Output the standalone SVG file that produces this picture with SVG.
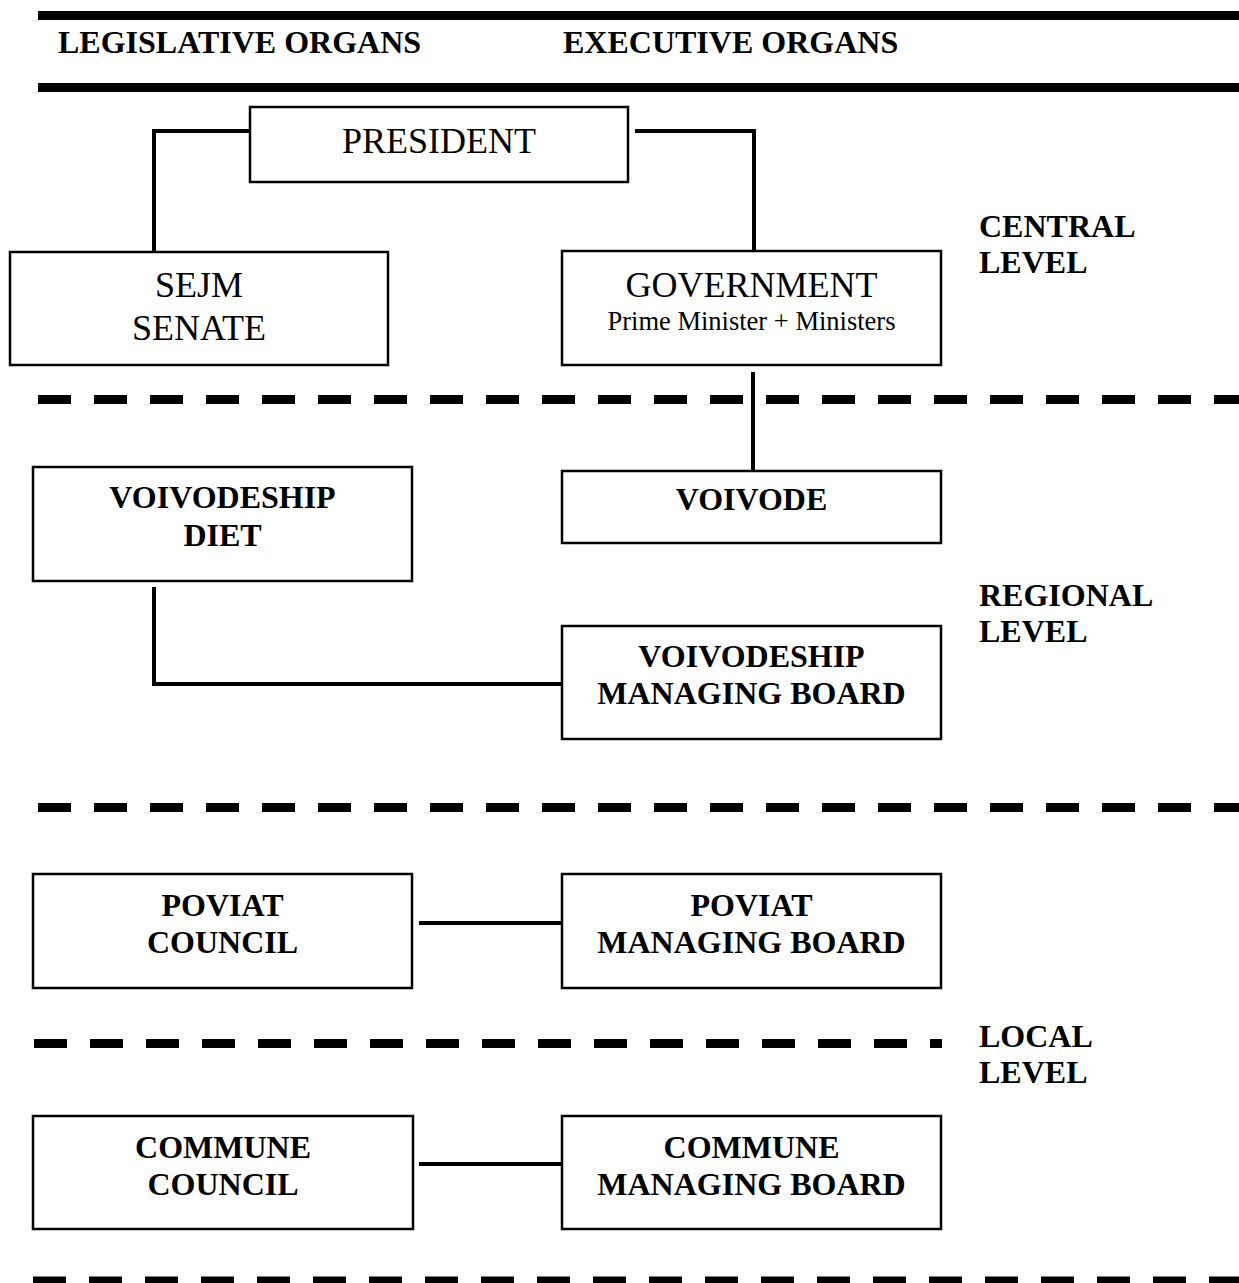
<svg xmlns="http://www.w3.org/2000/svg" width="1239" height="1283" viewBox="0 0 1239 1283">
<style>
.bg{fill:#fff}
.box{fill:#fff;stroke:#000;stroke-width:2.5}
.bar{stroke:#000;stroke-width:9;fill:none}
.dash{stroke:#000;stroke-width:9;fill:none;stroke-dasharray:33 23}
.conn{stroke:#000;stroke-width:4;fill:none}
.b{font-family:"Liberation Serif","Times New Roman",serif;font-weight:bold;font-size:32px;fill:#000}
.r{font-family:"Liberation Serif","Times New Roman",serif;font-size:36px;fill:#000}
.s{font-family:"Liberation Serif","Times New Roman",serif;font-size:26.5px;fill:#000}
.c{text-anchor:middle}
</style>
<rect class="bg" x="0" y="0" width="1239" height="1283"/>
<g id="header">
<line class="bar" x1="38" y1="15.5" x2="1239" y2="15.5"/>
<line class="bar" x1="38" y1="87.5" x2="1239" y2="87.5"/>
<text class="b" x="58" y="53">LEGISLATIVE ORGANS</text>
<text class="b" x="563" y="53">EXECUTIVE ORGANS</text>
</g>
<g id="separators">
<line class="dash" x1="38" y1="399.5" x2="1239" y2="399.5"/>
<line class="dash" x1="38" y1="807.5" x2="1239" y2="807.5"/>
<line class="dash" x1="34" y1="1043.5" x2="942" y2="1043.5"/>
<line class="dash" x1="33" y1="1281" x2="1239" y2="1281"/>
</g>
<g id="level-labels">
<text class="b" x="979" y="237">CENTRAL</text>
<text class="b" x="979" y="273">LEVEL</text>
<text class="b" x="979" y="606">REGIONAL</text>
<text class="b" x="979" y="642">LEVEL</text>
<text class="b" x="979" y="1047">LOCAL</text>
<text class="b" x="979" y="1083">LEVEL</text>
</g>
<g id="connectors">
<polyline class="conn" points="250,131 154,131 154,252"/>
<polyline class="conn" points="635,131 754,131 754,251"/>
<line class="conn" x1="753" y1="372" x2="753" y2="471"/>
<polyline class="conn" points="154,587 154,684 562,684"/>
<line class="conn" x1="419" y1="923" x2="562" y2="923"/>
<line class="conn" x1="419" y1="1164" x2="562" y2="1164"/>
</g>
<g id="president">
<rect class="box" x="250" y="107" width="378" height="75"/>
<text class="r c" x="439" y="153">PRESIDENT</text>
</g>
<g id="sejm-senate">
<rect class="box" x="10" y="252" width="378" height="113"/>
<text class="r c" x="199" y="297">SEJM</text>
<text class="r c" x="199" y="340">SENATE</text>
</g>
<g id="government">
<rect class="box" x="562" y="251" width="379" height="114"/>
<text class="r c" x="751.5" y="297">GOVERNMENT</text>
<text class="s c" x="751.5" y="330">Prime Minister + Ministers</text>
</g>
<g id="voivodeship-diet">
<rect class="box" x="33" y="467" width="379" height="114"/>
<text class="b c" x="222.5" y="508">VOIVODESHIP</text>
<text class="b c" x="222.5" y="546">DIET</text>
</g>
<g id="voivode">
<rect class="box" x="562" y="471" width="379" height="72"/>
<text class="b c" x="751.5" y="510">VOIVODE</text>
</g>
<g id="voivodeship-board">
<rect class="box" x="562" y="626" width="379" height="113"/>
<text class="b c" x="751.5" y="667">VOIVODESHIP</text>
<text class="b c" x="751.5" y="704">MANAGING BOARD</text>
</g>
<g id="poviat-council">
<rect class="box" x="33" y="874" width="379" height="114"/>
<text class="b c" x="222.5" y="916">POVIAT</text>
<text class="b c" x="222.5" y="953">COUNCIL</text>
</g>
<g id="poviat-board">
<rect class="box" x="562" y="874" width="379" height="114"/>
<text class="b c" x="751.5" y="916">POVIAT</text>
<text class="b c" x="751.5" y="953">MANAGING BOARD</text>
</g>
<g id="commune-council">
<rect class="box" x="33" y="1116" width="380" height="113"/>
<text class="b c" x="223" y="1158">COMMUNE</text>
<text class="b c" x="223" y="1195">COUNCIL</text>
</g>
<g id="commune-board">
<rect class="box" x="562" y="1116" width="379" height="113"/>
<text class="b c" x="751.5" y="1158">COMMUNE</text>
<text class="b c" x="751.5" y="1195">MANAGING BOARD</text>
</g>
</svg>
